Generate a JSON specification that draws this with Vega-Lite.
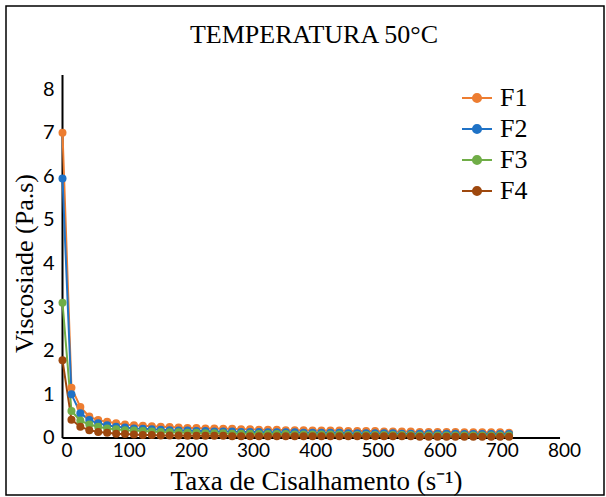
{
  "$schema": "https://vega.github.io/schema/vega-lite/v6.json",
  "width": 598,
  "height": 489,
  "autosize": {"type": "none"},
  "padding": {"left": 6, "top": 6, "right": 2, "bottom": 2},
  "background": "white",
  "config": {"view": {"stroke": "#000", "strokeWidth": 1.5}, "font": "Liberation Serif"},
  "title": {"text": "TEMPERATURA 50°C", "frame": "group", "anchor": "middle", "orient": "top", "offset": -63, "baseline": "alphabetic", "dx": 9, "font": "Liberation Serif", "fontSize": 26, "fontWeight": "normal", "color": "#000"},
  "encoding": {
    "x": {
      "field": "x", "type": "quantitative",
      "scale": {"domain": [-90.85, 870.7], "nice": false, "zero": false},
      "axis": {"values": [0, 100, 200, 300, 400, 500, 600, 700, 800], "domain": false, "ticks": false, "grid": false, "offset": -57, "labelPadding": 3, "labelFont": "Lato", "labelFontSize": 19, "labelColor": "#000", "labelOffset": 4,
        "title": "Taxa de Cisalhamento (s⁻¹)", "titleFont": "Liberation Serif", "titleFontSize": 27, "titleFontWeight": "normal", "titleColor": "#000", "titleX": 310, "titleY": 51, "titleBaseline": "alphabetic", "titleAlign": "center"}
    },
    "y": {
      "field": "y", "type": "quantitative",
      "scale": {"domain": [-1.3066, 9.9026], "nice": false, "zero": false},
      "axis": {"values": [0, 1, 2, 3, 4, 5, 6, 7, 8], "domain": false, "ticks": false, "grid": false, "offset": -56, "labelPadding": 8, "labelFont": "Lato", "labelFontSize": 20, "labelColor": "#000",
        "title": "Viscosiade (Pa.s)", "titleFont": "Liberation Serif", "titleFontSize": 26, "titleFontWeight": "normal", "titleColor": "#000", "titleX": -38, "titleY": 257, "titleAngle": -90, "titleBaseline": "middle", "titleAlign": "center"}
    }
  },
  "layer": [
    {
      "data": {"values": [{"x": 0, "y": 0, "y2": 8.32}]},
      "mark": {"type": "rule", "color": "#000", "strokeWidth": 2},
      "encoding": {"y2": {"field": "y2"}}
    },
    {
      "data": {"values": [{"x": 0, "x2": 800, "y": 0}]},
      "mark": {"type": "rule", "color": "#000", "strokeWidth": 2},
      "encoding": {"x2": {"field": "x2"}}
    },
    {
      "data": {"values": [
        {"x": 0, "F1": 7.0, "F2": 5.95, "F3": 3.1, "F4": 1.78},
        {"x": 14.4, "F1": 1.15, "F2": 1.0, "F3": 0.62, "F4": 0.42},
        {"x": 28.7, "F1": 0.71, "F2": 0.57, "F3": 0.40, "F4": 0.26},
        {"x": 43.1, "F1": 0.49, "F2": 0.41, "F3": 0.31, "F4": 0.18},
        {"x": 57.4, "F1": 0.41, "F2": 0.34, "F3": 0.26, "F4": 0.14},
        {"x": 71.8, "F1": 0.37, "F2": 0.29, "F3": 0.22, "F4": 0.12},
        {"x": 86.2, "F1": 0.34, "F2": 0.26, "F3": 0.20, "F4": 0.10},
        {"x": 100.5, "F1": 0.31, "F2": 0.24, "F3": 0.18, "F4": 0.09},
        {"x": 114.9, "F1": 0.29, "F2": 0.22, "F3": 0.17, "F4": 0.08},
        {"x": 129.2, "F1": 0.28, "F2": 0.21, "F3": 0.16, "F4": 0.07},
        {"x": 143.6, "F1": 0.27, "F2": 0.20, "F3": 0.15, "F4": 0.07},
        {"x": 158.0, "F1": 0.26, "F2": 0.19, "F3": 0.14, "F4": 0.06},
        {"x": 172.3, "F1": 0.25, "F2": 0.18, "F3": 0.13, "F4": 0.06},
        {"x": 186.7, "F1": 0.24, "F2": 0.17, "F3": 0.13, "F4": 0.06},
        {"x": 201.0, "F1": 0.23, "F2": 0.17, "F3": 0.12, "F4": 0.05},
        {"x": 215.4, "F1": 0.23, "F2": 0.16, "F3": 0.12, "F4": 0.05},
        {"x": 229.8, "F1": 0.22, "F2": 0.16, "F3": 0.11, "F4": 0.05},
        {"x": 244.1, "F1": 0.22, "F2": 0.15, "F3": 0.11, "F4": 0.05},
        {"x": 258.5, "F1": 0.21, "F2": 0.15, "F3": 0.11, "F4": 0.05},
        {"x": 272.8, "F1": 0.21, "F2": 0.15, "F3": 0.10, "F4": 0.04},
        {"x": 287.2, "F1": 0.20, "F2": 0.14, "F3": 0.10, "F4": 0.04},
        {"x": 301.6, "F1": 0.20, "F2": 0.14, "F3": 0.10, "F4": 0.04},
        {"x": 315.9, "F1": 0.19, "F2": 0.14, "F3": 0.09, "F4": 0.04},
        {"x": 330.3, "F1": 0.19, "F2": 0.13, "F3": 0.09, "F4": 0.04},
        {"x": 344.6, "F1": 0.19, "F2": 0.13, "F3": 0.09, "F4": 0.04},
        {"x": 359.0, "F1": 0.18, "F2": 0.13, "F3": 0.09, "F4": 0.04},
        {"x": 373.4, "F1": 0.18, "F2": 0.13, "F3": 0.08, "F4": 0.04},
        {"x": 387.7, "F1": 0.18, "F2": 0.12, "F3": 0.08, "F4": 0.04},
        {"x": 402.1, "F1": 0.17, "F2": 0.12, "F3": 0.08, "F4": 0.04},
        {"x": 416.4, "F1": 0.17, "F2": 0.12, "F3": 0.08, "F4": 0.04},
        {"x": 430.8, "F1": 0.17, "F2": 0.12, "F3": 0.08, "F4": 0.04},
        {"x": 445.2, "F1": 0.17, "F2": 0.12, "F3": 0.08, "F4": 0.04},
        {"x": 459.5, "F1": 0.16, "F2": 0.11, "F3": 0.07, "F4": 0.04},
        {"x": 473.9, "F1": 0.16, "F2": 0.11, "F3": 0.07, "F4": 0.04},
        {"x": 488.2, "F1": 0.16, "F2": 0.11, "F3": 0.07, "F4": 0.04},
        {"x": 502.6, "F1": 0.16, "F2": 0.11, "F3": 0.07, "F4": 0.04},
        {"x": 517.0, "F1": 0.15, "F2": 0.11, "F3": 0.07, "F4": 0.04},
        {"x": 531.3, "F1": 0.15, "F2": 0.11, "F3": 0.07, "F4": 0.04},
        {"x": 545.7, "F1": 0.15, "F2": 0.10, "F3": 0.07, "F4": 0.04},
        {"x": 560.0, "F1": 0.15, "F2": 0.10, "F3": 0.07, "F4": 0.04},
        {"x": 574.4, "F1": 0.14, "F2": 0.10, "F3": 0.06, "F4": 0.03},
        {"x": 588.8, "F1": 0.14, "F2": 0.10, "F3": 0.06, "F4": 0.03},
        {"x": 603.1, "F1": 0.14, "F2": 0.10, "F3": 0.06, "F4": 0.03},
        {"x": 617.5, "F1": 0.14, "F2": 0.10, "F3": 0.06, "F4": 0.03},
        {"x": 631.8, "F1": 0.14, "F2": 0.10, "F3": 0.06, "F4": 0.03},
        {"x": 646.2, "F1": 0.13, "F2": 0.09, "F3": 0.06, "F4": 0.03},
        {"x": 660.6, "F1": 0.13, "F2": 0.09, "F3": 0.06, "F4": 0.03},
        {"x": 674.9, "F1": 0.13, "F2": 0.09, "F3": 0.06, "F4": 0.03},
        {"x": 689.3, "F1": 0.13, "F2": 0.09, "F3": 0.06, "F4": 0.03},
        {"x": 703.6, "F1": 0.13, "F2": 0.09, "F3": 0.06, "F4": 0.03},
        {"x": 718.0, "F1": 0.12, "F2": 0.09, "F3": 0.06, "F4": 0.03}
      ]},
      "transform": [{"fold": ["F1", "F2", "F3", "F4"], "as": ["series", "y"]}],
      "mark": {"type": "line", "strokeWidth": 2, "point": {"filled": true, "size": 64}},
      "encoding": {
        "color": {
          "field": "series", "type": "nominal",
          "scale": {"domain": ["F1", "F2", "F3", "F4"], "range": ["#ED7D31", "#1F72C6", "#70AD47", "#9E480E"]},
          "legend": {"title": null, "orient": "none", "legendX": 455, "legendY": 76, "padding": 0,
            "symbolType": "M-1,0H1M-0.27,0A0.27,0.27,0,1,1,0.27,0A0.27,0.27,0,1,1,-0.27,0Z",
            "symbolSize": 900, "symbolStrokeWidth": 2, "labelFont": "Liberation Serif", "labelFontSize": 26, "labelColor": "#000", "labelOffset": 7, "rowPadding": 2,
            "encode": {"symbols": {"update": {"fill": {"scale": "color", "field": "value"}, "fillOpacity": {"value": 1}, "opacity": {"value": 1}}}}}
        }
      }
    }
  ]
}
